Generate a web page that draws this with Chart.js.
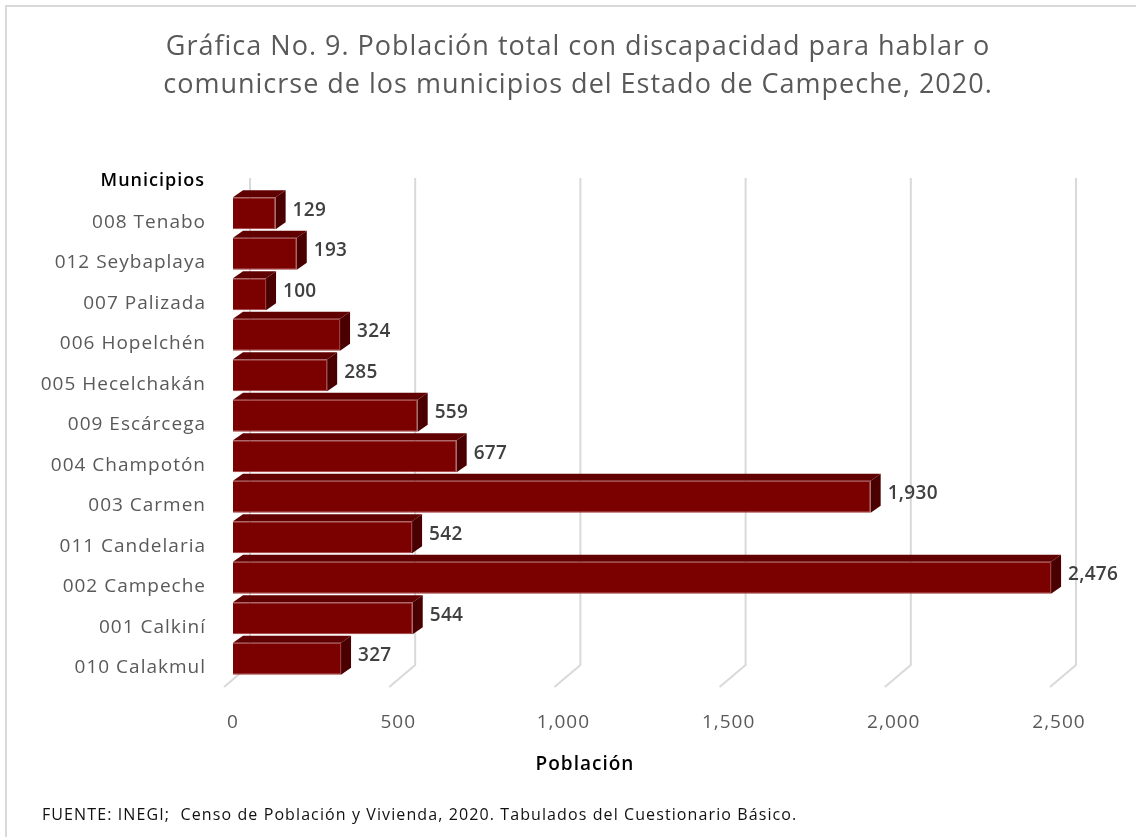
<!DOCTYPE html>
<html lang="es">
<head>
<meta charset="utf-8">
<title>Gráfica No. 9</title>
<script src="https://cdn.jsdelivr.net/npm/chart.js@4.4.1/dist/chart.umd.min.js"></script>
<style>
  html, body { margin: 0; padding: 0; background: #fff; }
  #lienzo { position: relative; width: 1136px; height: 837px; overflow: hidden; }
  #marco { position: absolute; left: 5px; top: 5px; right: 0; bottom: 0;
           border-top: 2px solid #D9D9D9; border-left: 2px solid #D9D9D9; pointer-events: none; }
  #fuente { position: absolute; left: 42px; top: 803px; font: 16px "Open Sans", sans-serif;
            letter-spacing: 1.1px; color: #111; white-space: pre; }
  canvas { position: absolute; left: 0; top: 0; }
</style>
</head>
<body>
<div id="lienzo">
  <canvas id="grafica" width="1136" height="837"></canvas>
  <div id="marco"></div>
  <div id="fuente">FUENTE: INEGI;  Censo de Población y Vivienda, 2020. Tabulados del Cuestionario Básico.</div>
</div>
<script>
// Datos
const municipios = ['008 Tenabo', '012 Seybaplaya', '007 Palizada', '006 Hopelchén', '005 Hecelchakán',
  '009 Escárcega', '004 Champotón', '003 Carmen', '011 Candelaria', '002 Campeche', '001 Calkiní', '010 Calakmul'];
const poblacion = [129, 193, 100, 324, 285, 559, 677, 1930, 542, 2476, 544, 327];
const ticksX = [0, 500, 1000, 1500, 2000, 2500];

const titulo = ['Gráfica No. 9. Población total con discapacidad para hablar o',
  'comunicrse de los municipios del Estado de Campeche, 2020.'];

const FONT = '"Open Sans"';
const fmt = v => v.toLocaleString('en-US');

// profundidad del efecto 3D
const DX = 10, DY = 7;

// Rejilla en perspectiva + caras superior/lateral de las barras + textos
const barras3d = {
  id: 'barras3d',
  beforeDraw(chart) {
    // la fuente original es más espaciada
    chart.ctx.letterSpacing = '1px';
  },
  beforeDatasetsDraw(chart) {
    const { ctx, chartArea: a, scales: { x } } = chart;
    ctx.save();
    ctx.strokeStyle = '#D9D9D9';
    ctx.lineWidth = 2;
    ticksX.forEach(v => {
      const px = x.getPixelForValue(v);
      ctx.beginPath();
      ctx.moveTo(px + 17, a.top - 15);
      ctx.lineTo(px + 17, a.bottom - 14);
      ctx.lineTo(px - 9, a.bottom + 8);
      ctx.stroke();
    });
    ctx.restore();
  },
  afterDatasetsDraw(chart) {
    const { ctx } = chart;
    const meta = chart.getDatasetMeta(0);
    ctx.save();
    meta.data.forEach((bar, i) => {
      const { x: x1, y, base: x0, height: h } = bar.getProps(['x', 'y', 'base', 'height'], true);
      const top = y - h / 2, bot = y + h / 2;
      // cara superior
      ctx.fillStyle = '#600000';
      ctx.beginPath();
      ctx.moveTo(x0, top);
      ctx.lineTo(x0 + DX, top - DY);
      ctx.lineTo(x1 + DX, top - DY);
      ctx.lineTo(x1, top);
      ctx.closePath();
      ctx.fill();
      // cara lateral
      ctx.fillStyle = '#4A0000';
      ctx.beginPath();
      ctx.moveTo(x1, top);
      ctx.lineTo(x1 + DX, top - DY);
      ctx.lineTo(x1 + DX, bot - DY);
      ctx.lineTo(x1, bot);
      ctx.closePath();
      ctx.fill();
      // valor
      ctx.letterSpacing = '0.3px';
      ctx.fillStyle = '#404040';
      ctx.font = `600 19px ${FONT}`;
      ctx.textAlign = 'left';
      ctx.textBaseline = 'middle';
      ctx.fillText(fmt(poblacion[i]), x1 + 17, y - 3);
    });
    ctx.restore();
  },
  afterDraw(chart) {
    const { ctx, chartArea: a } = chart;
    ctx.save();
    ctx.textBaseline = 'middle';
    // título
    ctx.letterSpacing = '1px';
    ctx.fillStyle = '#595959';
    ctx.font = `27px ${FONT}`;
    ctx.textAlign = 'center';
    titulo.forEach((t, i) => ctx.fillText(t, 578, 47 + i * 38));
    // rótulos de ejes
    ctx.fillStyle = '#000';
    ctx.font = `600 18px ${FONT}`;
    ctx.textAlign = 'right';
    ctx.fillText('Municipios', 205, a.top - 12);
    ctx.textAlign = 'center';
    ctx.font = `600 19px ${FONT}`;
    ctx.fillText('Población', 585, 765);
    ctx.restore();
  }
};

new Chart(document.getElementById('grafica'), {
  type: 'bar',
  data: {
    labels: municipios,
    datasets: [{
      data: poblacion,
      backgroundColor: '#7B0000',
      borderColor: '#9E3535',
      borderWidth: 1,
      categoryPercentage: 1,
      barPercentage: 0.79
    }]
  },
  options: {
    indexAxis: 'y',
    responsive: false,
    animation: false,
    layout: { padding: { left: 0, right: 77, top: 193, bottom: 58 } },
    plugins: {
      legend: { display: false },
      tooltip: { enabled: false },
      title: { display: false }
    },
    scales: {
      x: {
        min: 0, max: 2500,
        afterBuildTicks: s => { s.ticks = ticksX.map(v => ({ value: v })); },
        afterFit: s => { s.height = 100; },
        grid: { display: false },
        border: { display: false },
        ticks: { color: '#595959', font: { family: FONT, size: 19 }, padding: 24, callback: v => fmt(v) }
      },
      y: {
        afterFit: s => { s.width = 233; },
        grid: { display: false },
        border: { display: false },
        ticks: { color: '#595959', font: { family: FONT, size: 19 }, padding: 19, labelOffset: 9 }
      }
    }
  },
  plugins: [barras3d]
});
</script>
</body>
</html>
